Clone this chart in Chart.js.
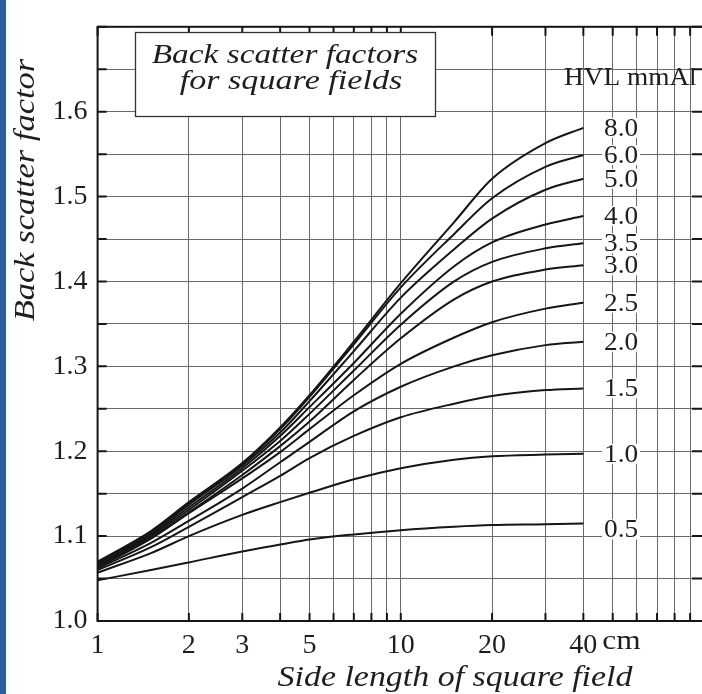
<!DOCTYPE html>
<html><head><meta charset="utf-8">
<script src="https://cdn.jsdelivr.net/npm/chart.js@4.4.1/dist/chart.umd.min.js"></script>
<style>
html,body{margin:0;padding:0;background:#fff;overflow:hidden;width:702px;height:694px;}
#wrap{position:absolute;left:0;top:0;width:712px;height:694px;}
#strip{position:absolute;left:0;top:0;width:6px;height:694px;background:#2f5f97;z-index:2;}
</style></head><body>
<div id="wrap"><canvas id="c" width="712" height="694"></canvas></div>
<div id="strip"></div>
<script>
// ---- data ----
const fieldSizes = [1, 1.5, 2, 3, 4, 5, 7, 10, 15, 20, 30, 40];
const hvlLabels = ['8.0','6.0','5.0','4.0','3.5','3.0','2.5','2.0','1.5','1.0','0.5'];
const bsf80 = [1.070,1.106,1.140,1.186,1.228,1.266,1.329,1.398,1.470,1.521,1.563,1.581];
const bsf60 = [1.069,1.105,1.139,1.185,1.226,1.264,1.326,1.393,1.456,1.498,1.535,1.549];
const bsf50 = [1.068,1.104,1.137,1.183,1.222,1.259,1.318,1.381,1.438,1.474,1.508,1.521];
const bsf40 = [1.067,1.102,1.134,1.180,1.218,1.252,1.304,1.362,1.418,1.446,1.467,1.477];
const bsf35 = [1.066,1.100,1.131,1.177,1.212,1.244,1.295,1.349,1.400,1.423,1.439,1.445];
const bsf30 = [1.065,1.098,1.128,1.172,1.206,1.235,1.284,1.333,1.379,1.400,1.414,1.419];
const bsf25 = [1.063,1.097,1.127,1.168,1.199,1.226,1.266,1.303,1.334,1.352,1.368,1.375];
const bsf20 = [1.062,1.092,1.118,1.156,1.187,1.211,1.247,1.276,1.300,1.313,1.325,1.329];
const bsf15 = [1.060,1.087,1.111,1.146,1.171,1.192,1.218,1.240,1.256,1.265,1.272,1.274];
const bsf10 = [1.057,1.080,1.100,1.125,1.140,1.151,1.167,1.180,1.190,1.194,1.196,1.197];
const bsf05 = [1.048,1.060,1.069,1.082,1.090,1.096,1.102,1.107,1.111,1.113,1.114,1.115];
const seriesValues = [bsf80,bsf60,bsf50,bsf40,bsf35,bsf30,bsf25,bsf20,bsf15,bsf10,bsf05];
const xGridValues = [1,2,3,4,5,6,7,8,9,10,20,30,40,50,60,70,80,90,100];
const xLabelValues = [1,2,3,5,10,20,40];
const xUnit = 'cm';
const yLabelValues = [1.0,1.1,1.2,1.3,1.4,1.5,1.6];
const boxLines = ['Back scatter factors','for square fields'];
const legendTitle = 'HVL mmAl';
const xTitle = 'Side length of square field';
const yTitle = 'Back scatter factor';

const SERIF = '"Liberation Serif"';
const INK = '#161616';
const GRID = '#6a6a6a';

function sText(ctx, txt, x, y, sx, align) {
  ctx.save();
  ctx.translate(x, y);
  ctx.scale(sx, 1);
  ctx.textAlign = align || 'left';
  ctx.fillText(txt, 0, 0);
  ctx.restore();
}

function build() {
  const datasets = seriesValues.map((vals, i) => ({
    label: hvlLabels[i],
    data: fieldSizes.map((x, j) => ({x: x, y: vals[j]})),
    borderColor: INK,
    borderWidth: 2,
    pointRadius: 0,
    fill: false,
    cubicInterpolationMode: 'monotone'
  }));

  const decor = {
    id: 'decor',
    afterDraw(chart) {
      const ctx = chart.ctx;
      const a = chart.chartArea;
      const xs = chart.scales.x, ys = chart.scales.y;
      ctx.save();
      ctx.strokeStyle = INK;
      ctx.lineWidth = 2;
      ctx.strokeRect(a.left, a.top, a.right - a.left, a.bottom - a.top);
      xGridValues.forEach(v => {
        const px = xs.getPixelForValue(v);
        ctx.beginPath();
        ctx.moveTo(px, a.top); ctx.lineTo(px, a.top + 9);
        ctx.moveTo(px, a.bottom); ctx.lineTo(px, a.bottom - 8);
        ctx.stroke();
      });
      for (let k = 0; k <= 14; k++) {
        const py = ys.getPixelForValue(1 + k * 0.05);
        ctx.beginPath();
        ctx.moveTo(a.left, py); ctx.lineTo(a.left + 9, py);
        ctx.moveTo(a.right, py); ctx.lineTo(a.right - 12, py);
        ctx.stroke();
      }
      // title box
      ctx.fillStyle = '#fff';
      ctx.fillRect(135, 32, 300, 84);
      ctx.strokeStyle = '#333';
      ctx.lineWidth = 1.3;
      ctx.strokeRect(135.5, 32.5, 300, 84);
      ctx.fillStyle = '#1e1e1e';
      ctx.font = 'italic 28px ' + SERIF;
      ctx.textBaseline = 'alphabetic';
      sText(ctx, boxLines[0], 285, 63, 1.19, 'center');
      sText(ctx, boxLines[1], 291, 89, 1.22, 'center');
      // legend title
      ctx.font = '26px ' + SERIF;
      ctx.textBaseline = 'middle';
      sText(ctx, legendTitle, 564, 78, 1.05, 'left');
      // curve labels
      chart.data.datasets.forEach((ds) => {
        const last = ds.data[ds.data.length - 1];
        let py = ys.getPixelForValue(last.y);
        if (ds.label === '0.5') py += 6;
        const w = ctx.measureText(ds.label).width * 1.05;
        ctx.fillStyle = '#fff';
        ctx.fillRect(602, py - 10, w + 4, 20);
        ctx.fillStyle = '#1e1e1e';
        sText(ctx, ds.label, 604, py + 1, 1.05, 'left');
      });
      // unit after the 40 tick
      ctx.font = '28px ' + SERIF;
      const p40 = xs.getPixelForValue(40);
      const w40 = ctx.measureText('40').width;
      ctx.textBaseline = 'middle';
      sText(ctx, xUnit, p40 + w40 / 2 + 5, 642, 1.12, 'left');
      // axis titles
      ctx.font = 'italic 29px ' + SERIF;
      sText(ctx, xTitle, 455, 678, 1.17, 'center');
      ctx.save();
      ctx.translate(26, 190);
      ctx.rotate(-Math.PI / 2);
      ctx.scale(1.19, 1);
      ctx.textAlign = 'center';
      ctx.fillText(yTitle, 0, 0);
      ctx.restore();
      ctx.restore();
    }
  };

  new Chart(document.getElementById('c'), {
    type: 'line',
    data: { datasets: datasets },
    options: {
      responsive: false,
      devicePixelRatio: 1,
      animation: false,
      layout: { padding: { left: 0, top: 10, right: 7, bottom: 0 } },
      plugins: { legend: { display: false }, tooltip: { enabled: false } },
      scales: {
        x: {
          type: 'logarithmic',
          min: 1, max: 100,
          afterBuildTicks: s => { s.ticks = xGridValues.map(v => ({ value: v })); },
          afterFit: s => { s.height = 73; },
          ticks: {
            autoSkip: false, maxRotation: 0, minRotation: 0,
            padding: 8,
            color: '#1e1e1e',
            font: { family: SERIF, size: 28 },
            callback: v => xLabelValues.includes(v) ? String(v) : ''
          },
          grid: { color: GRID, lineWidth: 1, drawTicks: false },
          border: { display: false }
        },
        y: {
          type: 'linear',
          min: 1.0, max: 1.7,
          afterFit: s => { s.width = 97.6; },
          ticks: {
            stepSize: 0.05, autoSkip: false,
            padding: 10,
            color: '#1e1e1e',
            font: { family: SERIF, size: 28 },
            callback: v => {
              const r = Math.round(v * 10) / 10;
              return (Math.abs(v - r) < 1e-6 && yLabelValues.some(t => Math.abs(t - r) < 1e-6)) ? r.toFixed(1) : '';
            }
          },
          grid: { color: GRID, lineWidth: 1, drawTicks: false },
          border: { display: false }
        }
      }
    },
    plugins: [decor]
  });
}

Promise.all([
  document.fonts.load('28px "Liberation Serif"'),
  document.fonts.load('italic 28px "Liberation Serif"')
]).then(build, build);
</script>
</body></html>
